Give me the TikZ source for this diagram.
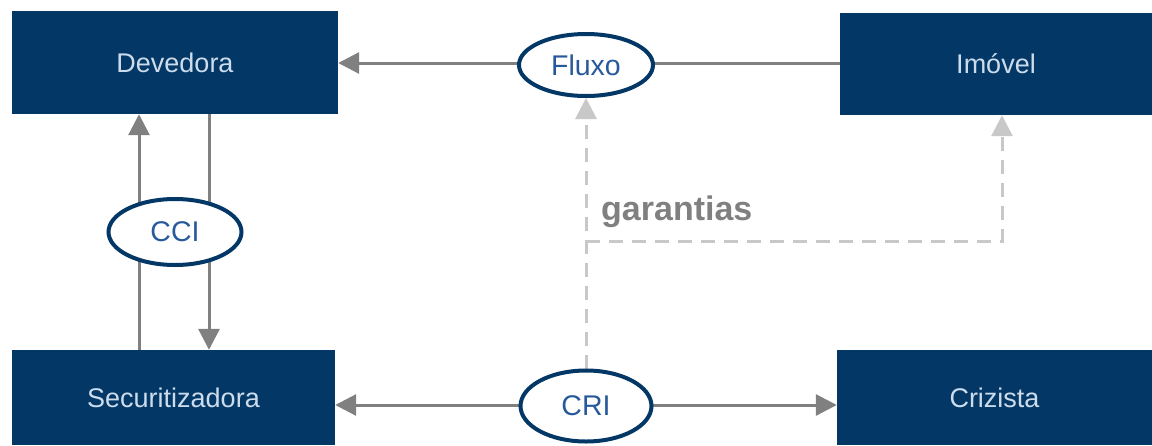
\documentclass[tikz,border=0pt]{standalone}
\usepackage{fontspec}
\setmainfont{Liberation Sans}
\usetikzlibrary{arrows.meta,shapes.geometric}
\definecolor{navy}{RGB}{3,56,102}
\definecolor{boxtext}{RGB}{205,220,236}
\definecolor{ovaltext}{RGB}{40,90,155}
\definecolor{arrowgray}{RGB}{128,128,128}
\definecolor{dashgray}{RGB}{200,200,200}
\begin{document}
\begin{tikzpicture}[x=1pt,y=-1pt,
  boxnode/.style={fill=navy, draw=none, text=boxtext, font=\fontsize{27}{30}\selectfont, inner sep=0pt},
  oval/.style={ellipse, draw=navy, line width=4pt, fill=white, text=ovaltext, font=\fontsize{28.5}{30}\selectfont, inner sep=0pt},
  conn/.style={draw=arrowgray, line width=3pt},
  tipped/.style={-{Triangle[length=21pt,width=21pt]}},
  dashconn/.style={draw=dashgray, line width=3pt, dash pattern=on 14pt off 9pt}
]
\useasboundingbox (0,0) rectangle (1152,445);

\node[boxnode, minimum width=326pt, minimum height=103pt] (devedora) at (175,62.5) {Devedora};
\node[boxnode, minimum width=312pt, minimum height=102pt] (imovel) at (996,64) {Imóvel};
\node[boxnode, minimum width=323pt, minimum height=95pt] (securit) at (173.5,397.5) {Securitizadora};
\node[boxnode, minimum width=315pt, minimum height=95pt] (crizista) at (994.5,397.5) {Crizista};

\coordinate (xL) at (139,0);
\coordinate (xR) at (209,0);
\coordinate (xG) at (1002,0);
\coordinate (yG) at (0,241);
\coordinate (yF) at (0,63);
\coordinate (yC) at (0,405);

% dashed guarantees
\draw[dashconn, tipped] (586,369) -- (586,98);
\draw[dashconn, tipped] (586,241) -| (imovel.south -| xG);

\draw[conn] (imovel.west |- yF) -- (586,63);
\draw[conn, tipped] (586,63) -- (devedora.east |- yF);
\draw[conn, tipped] (securit.north -| xL) -- (devedora.south -| xL);
\draw[conn, tipped] (devedora.south -| xR) -- (securit.north -| xR);
\draw[conn, tipped] (586,405) -- (securit.east |- yC);
\draw[conn, tipped] (586,405) -- (crizista.west |- yC);

\node[oval, minimum width=134pt, minimum height=62pt] (fluxo) at (586,65) {Fluxo};
\node[oval, minimum width=133pt, minimum height=66pt] (cci) at (175,232) {CCI};
\node[oval, minimum width=131pt, minimum height=71pt] (cri) at (586,406) {CRI};

\node[anchor=base west, text=arrowgray, font=\bfseries\fontsize{34}{38}\selectfont, inner sep=0pt] (gar) at (601,220) {garantias};
\end{tikzpicture}
\end{document}
